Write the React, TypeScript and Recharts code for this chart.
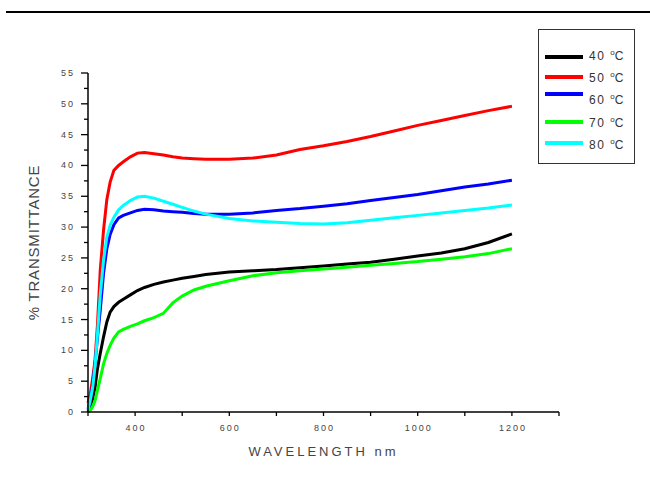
import { Label, Line, LineChart, XAxis, YAxis } from 'recharts';

const wavelengths = [
  300, 305, 310, 315, 320, 326, 333, 340, 347, 355, 365, 375, 390, 405, 420,
  440, 460, 480, 500, 525, 550, 600, 650, 700, 750, 800, 850, 900, 950, 1000,
  1050, 1100, 1150, 1200,
];
const t40 = [
  0, 1, 2.2, 4, 7, 9.5, 12.2, 14.6, 16.2, 17.1, 17.8, 18.3, 19, 19.7, 20.2,
  20.7, 21.1, 21.4, 21.7, 22, 22.3, 22.7, 22.9, 23.1, 23.4, 23.7, 24, 24.3,
  24.8, 25.3, 25.8, 26.5, 27.5, 28.9,
];
const t50 = [
  1.5, 3, 5.5, 8.5, 14, 23, 29.5, 34.5, 37.3, 39.2, 40, 40.6, 41.4, 42, 42.1,
  41.9, 41.7, 41.4, 41.2, 41.1, 41, 41, 41.2, 41.7, 42.6, 43.2, 43.9, 44.7,
  45.6, 46.5, 47.3, 48.1, 48.9, 49.6,
];
const t60 = [
  0.5, 1.8, 4.5, 7.9, 12, 16.5, 22.5, 26.5, 28.8, 30.4, 31.5, 31.9, 32.3, 32.7,
  32.9, 32.8, 32.6, 32.5, 32.4, 32.2, 32.1, 32.1, 32.3, 32.7, 33, 33.4, 33.8,
  34.3, 34.8, 35.3, 35.9, 36.5, 37, 37.6,
];
const t70 = [
  0, 0.3, 0.9, 1.8, 3.5, 5.4, 7.8, 9.5, 10.8, 12, 13, 13.4, 13.9, 14.3, 14.8,
  15.3, 16, 17.7, 18.8, 19.8, 20.4, 21.3, 22.1, 22.6, 22.9, 23.2, 23.5, 23.8,
  24.1, 24.4, 24.8, 25.2, 25.7, 26.5,
];
const t80 = [
  0.3, 2, 4, 7.5, 12.5, 19, 24.6, 28.4, 30.3, 31.6, 32.8, 33.5, 34.3, 34.9, 35,
  34.7, 34.2, 33.7, 33.2, 32.6, 32.1, 31.4, 31, 30.8, 30.6, 30.5, 30.7, 31.1,
  31.5, 31.9, 32.3, 32.7, 33.1, 33.6,
];

const seriesKeys = ['t40', 't50', 't60', 't70', 't80'];
const seriesNames = ['40', '50', '60', '70', '80'];
const seriesColors = ['#000000', '#ff0000', '#0000ff', '#00ff00', '#00ffff'];

const xTicks = [300, 400, 500, 600, 700, 800, 900, 1000, 1100, 1200, 1300];
const xLabels = [400, 600, 800, 1000, 1200];
const yTicks = [
  0, 2.5, 5, 7.5, 10, 12.5, 15, 17.5, 20, 22.5, 25, 27.5, 30, 32.5, 35, 37.5,
  40, 42.5, 45, 47.5, 50, 52.5, 55,
];

const data = wavelengths.map((w, i) => ({
  w,
  t40: t40[i],
  t50: t50[i],
  t60: t60[i],
  t70: t70[i],
  t80: t80[i],
}));

const font = '"Liberation Sans", Arial, sans-serif';
// legend rows, px from the top of the box
const legendLineTops = [25, 45, 62, 90, 111];
const legendTextTops = [16, 37.5, 60, 82.5, 105];

function XTick({ x, y, payload }: any) {
  const v = payload.value;
  return (
    <g>
      <line x1={x} x2={x} y1={y} y2={y + 4} stroke="#000" strokeWidth={1.3} />
      {xLabels.includes(v) && (
        <text
          x={x + 1}
          y={y + 19}
          textAnchor="middle"
          fontSize={9}
          letterSpacing={2}
          fill="#444"
          fontFamily={font}
        >
          {v}
        </text>
      )}
    </g>
  );
}

function YTick({ x, y, payload }: any) {
  const v = payload.value;
  const major = v % 5 === 0;
  return (
    <g>
      <line
        x1={x - (major ? 7 : 4)}
        x2={x}
        y1={y}
        y2={y}
        stroke="#000"
        strokeWidth={1.3}
      />
      {major && (
        <text
          x={x - 13}
          y={y + 3}
          textAnchor="end"
          fontSize={9}
          letterSpacing={2}
          fill="#444"
          fontFamily={font}
        >
          {v}
        </text>
      )}
    </g>
  );
}

export default function App() {
  return (
    <div
      style={{
        position: 'absolute',
        left: 0,
        top: 0,
        width: 650,
        height: 478,
        background: '#fff',
        fontFamily: font,
      }}
    >
      <div
        style={{
          position: 'absolute',
          left: 6,
          top: 11,
          width: 644,
          height: 2,
          background: '#000',
        }}
      />
      <LineChart
        width={650}
        height={478}
        data={data}
        margin={{ top: 73, right: 91, bottom: 0, left: 8 }}
      >
        <XAxis
          dataKey="w"
          type="number"
          domain={[300, 1300]}
          ticks={xTicks}
          interval={0}
          tickSize={0}
          tickMargin={0}
          tickLine={false}
          tick={<XTick />}
          height={66}
          axisLine={{ stroke: '#000', strokeWidth: 1.5 }}
        >
          <Label
            value="WAVELENGTH nm"
            position="insideBottom"
            offset={22}
            style={{
              fontSize: 13,
              letterSpacing: 3,
              fill: '#444',
              fontFamily: font,
            }}
          />
        </XAxis>
        <YAxis
          type="number"
          domain={[0, 55]}
          ticks={yTicks}
          interval={0}
          width={80}
          tickSize={0}
          tickMargin={0}
          tickLine={false}
          tick={<YTick />}
          axisLine={{ stroke: '#000', strokeWidth: 1.5 }}
        >
          <Label
            value="% TRANSMITTANCE"
            angle={-90}
            position="insideLeft"
            offset={26}
            style={{
              fontSize: 15,
              letterSpacing: 0.8,
              fill: '#444',
              textAnchor: 'middle',
              fontFamily: font,
            }}
          />
        </YAxis>
        {seriesKeys.map((k, i) => (
          <Line
            key={k}
            dataKey={k}
            type="linear"
            stroke={seriesColors[i]}
            strokeWidth={3}
            dot={false}
            isAnimationActive={false}
          />
        ))}
      </LineChart>
      <div
        style={{
          position: 'absolute',
          left: 538,
          top: 29,
          width: 97,
          height: 135,
          border: '1.5px solid #333',
          boxSizing: 'border-box',
        }}
      >
        {seriesNames.map((n, i) => (
          <div key={n}>
            <div
              style={{
                position: 'absolute',
                left: 6,
                top: legendLineTops[i],
                width: 38,
                height: 4,
                background: seriesColors[i],
              }}
            />
            <div
              style={{
                position: 'absolute',
                left: 50,
                top: legendTextTops[i],
                fontSize: 12,
                lineHeight: '14px',
                letterSpacing: 1.5,
                color: '#333',
                whiteSpace: 'nowrap',
              }}
            >
              {n}{' '}
              <sup style={{ fontSize: 8, verticalAlign: 5, letterSpacing: 0 }}>
                o
              </sup>
              C
            </div>
          </div>
        ))}
      </div>
    </div>
  );
}
